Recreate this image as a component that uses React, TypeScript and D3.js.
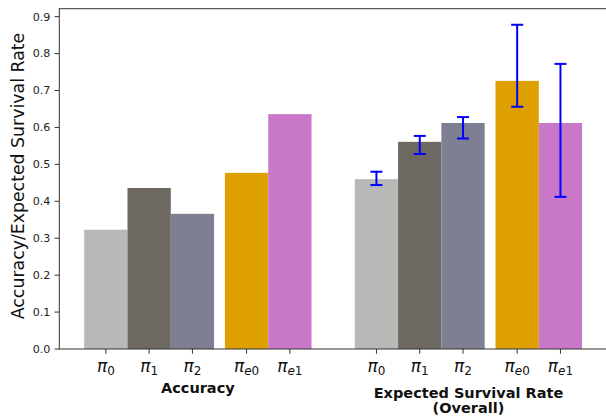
import React from "react";
import * as d3 from "d3";

const policies = ["0", "1", "2", "e0", "e1"];
const offsets = [0, 0.2, 0.4, 0.65, 0.85];
const groupShift = [0, 1.25];
const groupLabels = [["Accuracy"], ["Expected Survival Rate", "(Overall)"]];
const colors = ["#b8b9b6", "#6d6861", "#7f7f94", "#de9f00", "#c978c9"];
const accuracy = [0.323, 0.436, 0.366, 0.477, 0.636];
const survival = [0.460, 0.561, 0.612, 0.726, 0.612];
const survivalLow = [0.444, 0.528, 0.570, 0.656, 0.412];
const survivalHigh = [0.480, 0.577, 0.628, 0.878, 0.772];
const yTicks = [0, 0.1, 0.2, 0.3, 0.4, 0.5, 0.6, 0.7, 0.8, 0.9];
const yTitle = "Accuracy/Expected Survival Rate";

const W = 606, H = 417;
const L = 59.3, R = 607, T = 8.7, B = 349;
const barW = 0.2;

function sub(p: string) {
  // mathtext: letters italic, digits upright
  return p.split("").map((ch, k) => (
    <tspan key={k} fontStyle={/[0-9]/.test(ch) ? "normal" : "italic"}>{ch}</tspan>
  ));
}

export default function App() {
  const x = d3.scaleLinear().domain([-0.215, 2.315]).range([L, R]);
  const y = d3.scaleLinear().domain([0, 0.9215]).range([B, T]);
  const series = [accuracy, survival];
  const font = "DejaVu Sans, sans-serif";
  const groupY = [[393], [398, 413]];
  return (
    <svg width={W} height={H} style={{ position: "absolute", left: 0, top: 0, background: "#fff" }} fontFamily={font}>
      {series.map((vals, g) =>
        vals.map((v, i) => {
          const cx = x(offsets[i] + groupShift[g]);
          const w = x(barW) - x(0);
          return <rect key={`b${g}-${i}`} x={cx - w / 2} y={y(v)} width={w} height={B - y(v)} fill={colors[i]} />;
        })
      )}
      {survival.map((v, i) => {
        const cx = x(offsets[i] + groupShift[1]);
        return (
          <g key={`e${i}`} stroke="#0000ff" strokeWidth={2}>
            <line x1={cx} x2={cx} y1={y(survivalLow[i])} y2={y(survivalHigh[i])} />
            <line x1={cx - 6} x2={cx + 6} y1={y(survivalLow[i])} y2={y(survivalLow[i])} />
            <line x1={cx - 6} x2={cx + 6} y1={y(survivalHigh[i])} y2={y(survivalHigh[i])} />
          </g>
        );
      })}
      <rect x={L} y={T} width={R - L} height={B - T} fill="none" stroke="#333" strokeWidth={1} />
      {yTicks.map((t) => (
        <g key={`y${t}`}>
          <line x1={L - 4.7} x2={L} y1={y(t)} y2={y(t)} stroke="#333" strokeWidth={1} />
          <text x={L - 9} y={y(t)} dy="0.35em" textAnchor="end" fontSize={11.1} fill="#222">
            {d3.format(".1f")(t)}
          </text>
        </g>
      ))}
      {groupShift.map((gs, g) =>
        policies.map((p, i) => {
          const cx = x(offsets[i] + gs);
          return (
            <g key={`x${g}-${i}`}>
              <line x1={cx} x2={cx} y1={B} y2={B + 4.7} stroke="#333" strokeWidth={1} />
              <text x={cx} y={372} textAnchor="middle" fontSize={17} fill="#111">
                <tspan fontStyle="italic">π</tspan>
                <tspan fontSize={12} dy={3}>{sub(p)}</tspan>
              </text>
            </g>
          );
        })
      )}
      {groupShift.map((gs, g) => {
        const cx = x(0.425 + gs);
        return groupLabels[g].map((lab, k) => (
          <text key={`g${g}-${k}`} x={cx} y={groupY[g][k]} textAnchor="middle" fontSize={14.5} fontWeight="bold" fill="#111">
            {lab}
          </text>
        ));
      })}
      <text transform={`translate(24,176) rotate(-90)`} textAnchor="middle" fontSize={17.33} fill="#111">
        {yTitle}
      </text>
    </svg>
  );
}
